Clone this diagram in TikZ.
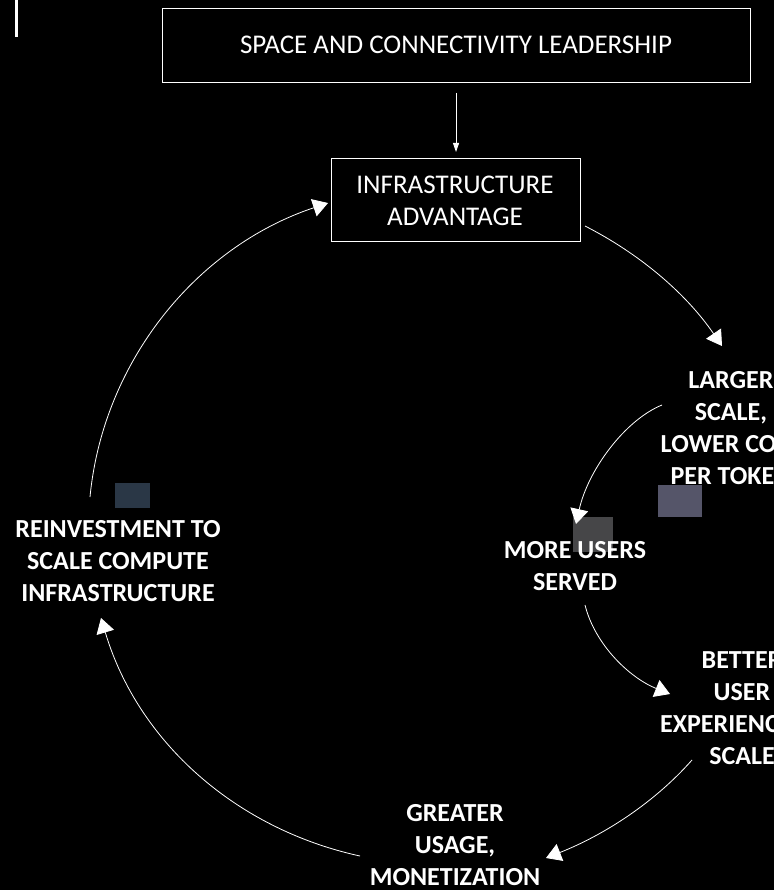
\documentclass[tikz,border=0pt]{standalone}
\usepackage{fontspec}
\setmainfont{Carlito}
\usetikzlibrary{arrows.meta}
\begin{document}
\begin{tikzpicture}[x=1pt,y=-1pt,
  every node/.style={text=white},
  boxlbl/.style={font=\fontsize{27}{32}\selectfont, align=center},
  cyclbl/.style={font=\bfseries\fontsize{26}{32}\selectfont, align=center},
  frame/.style={draw=white, line width=0.8pt},
  conn/.style={draw=white, line width=0.8pt, -{Triangle[width=18pt,length=15pt]}},
  feed/.style={draw=white, line width=0.8pt, -{Triangle[width=6pt,length=9pt]}}
]
\fill[black] (0,0) rectangle (774,890);
\useasboundingbox (0,0) rectangle (774,890);
\fill[white] (15,0) rectangle (18,37);

% placeholder icons
\fill[fill={rgb,255:red,42;green,55;blue,70}] (115,483) rectangle (150,508);
\fill[fill={rgb,255:red,85;green,85;blue,105}] (658,485) rectangle (702,517);
\fill[fill={rgb,255:red,70;green,70;blue,72}] (573,517) rectangle (613,552);

% boxes
\draw[frame] (162,8) rectangle (750,82);
\node[boxlbl] (lead) at (456,45) {SPACE AND CONNECTIVITY LEADERSHIP};
\coordinate (leadb) at (456,93);
\draw[frame] (331,158) rectangle (580,241);
\coordinate (infT) at (456,152);
\node[boxlbl] (infra) at (455,201) {INFRASTRUCTURE\\ADVANTAGE};

% cycle labels
\node[cyclbl] (larger) at (731,428) {LARGER\\SCALE,\\LOWER COST\\PER TOKEN};
\node[cyclbl] (more) at (575,566) {MORE USERS\\SERVED};
\node[cyclbl] (better) at (742,708) {BETTER\\USER\\EXPERIENCE AT\\SCALE};
\node[cyclbl] (greater) at (455,845) {GREATER\\USAGE,\\MONETIZATION};
\node[cyclbl] (reinv) at (118,561) {REINVESTMENT TO\\SCALE COMPUTE\\INFRASTRUCTURE};

% connector end points
\coordinate (a1s) at (585,226);  \coordinate (a1e) at (722,346);
\coordinate (a2s) at (662,405);  \coordinate (a2e) at (576,524);
\coordinate (a3s) at (585,605);  \coordinate (a3e) at (670,694);
\coordinate (a4s) at (692,760);  \coordinate (a4e) at (546,858);
\coordinate (a5s) at (360,856);  \coordinate (a5e) at (101,618);
\coordinate (a6s) at (90,497);   \coordinate (a6e) at (328,203);

\draw[feed] (leadb) -- (infT);
\draw[conn] (a1s) .. controls (638,253) and (685,292) .. (a1e);
\draw[conn] (a2s) .. controls (625,420) and (588,470) .. (a2e);
\draw[conn] (a3s) .. controls (595,645) and (630,678) .. (a3e);
\draw[conn] (a4s) .. controls (654,803) and (604,835) .. (a4e);
\draw[conn] (a5s) .. controls (236,829) and (138,742) .. (a5e);
\draw[conn] (a6s) .. controls (103,362) and (196,247) .. (a6e);
\end{tikzpicture}
\end{document}
